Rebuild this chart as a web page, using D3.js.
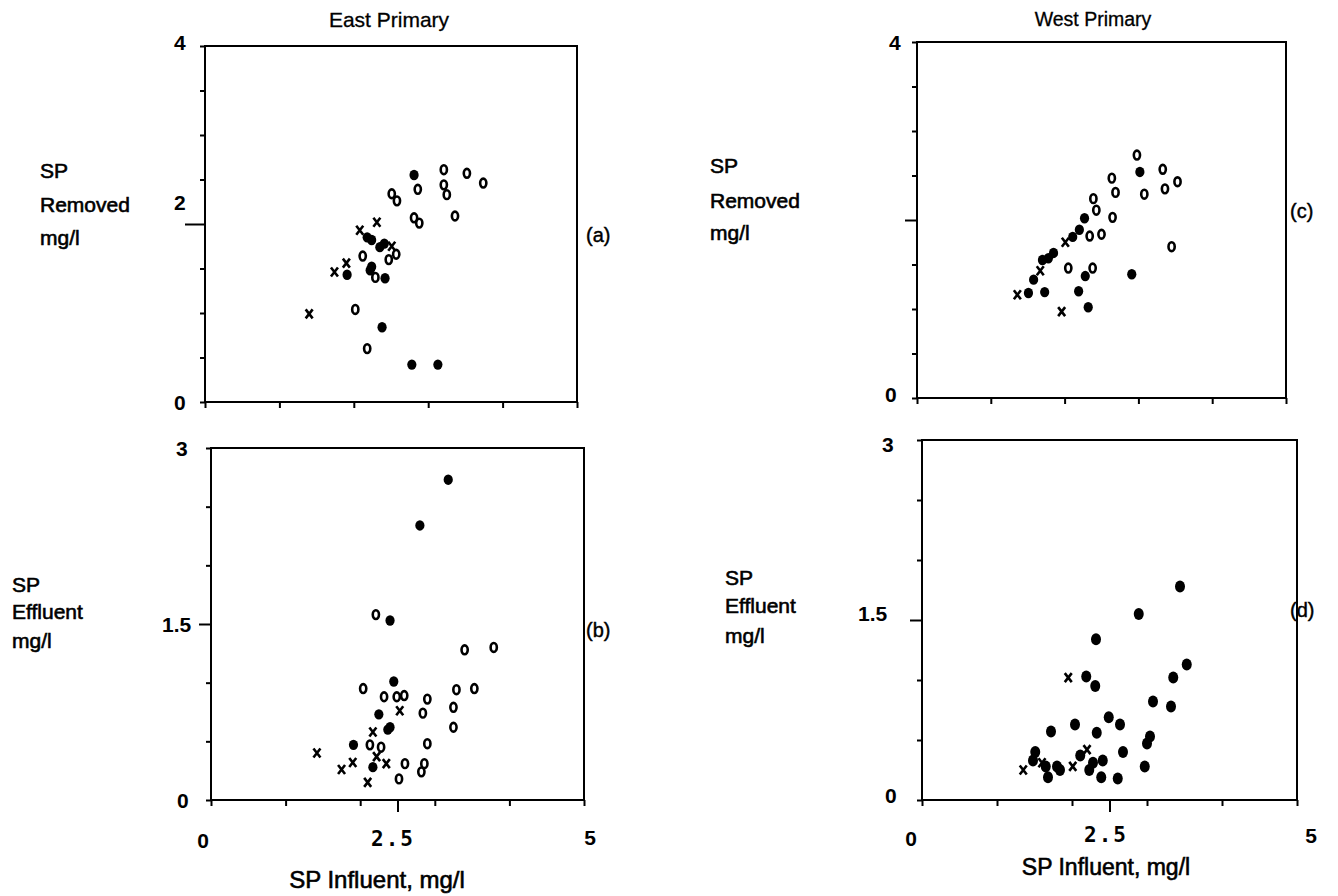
<!DOCTYPE html>
<html><head><meta charset="utf-8">
<script src="https://cdn.jsdelivr.net/npm/d3@7"></script>
<style>
body{margin:0;background:#fff;}
svg text{font-family:"Liberation Sans",Arial,sans-serif;fill:#000;}
</style></head>
<body><svg id="c" width="1338" height="896"></svg>
<script>
// ---- data (x = SP influent mg/l, y = value) ----
const eastRemovedO = [[3.21,2.61],[3.52,2.57],[3.74,2.46],[2.86,2.39],[3.21,2.44],[3.25,2.33],[2.51,2.34],[2.58,2.26],[2.81,2.07],[2.88,2.01],[3.36,2.09],[2.57,1.66],[2.47,1.60],[2.12,1.64],[2.29,1.40],[2.02,1.04],[2.18,0.60]];
const eastRemovedX = [[2.31,2.02],[2.08,1.93],[2.51,1.75],[1.90,1.56],[1.74,1.46],[1.40,0.99]];
const eastRemovedF = [[2.81,2.55],[2.18,1.85],[2.24,1.82],[2.35,1.74],[2.41,1.78],[2.24,1.52],[2.22,1.48],[2.42,1.39],[1.91,1.43],[2.38,0.84],[2.78,0.42],[3.13,0.42]];

const eastEffO = [[2.21,1.58],[3.40,1.28],[3.79,1.30],[2.04,0.95],[2.32,0.88],[2.49,0.88],[2.59,0.89],[2.90,0.86],[3.29,0.94],[3.53,0.95],[3.25,0.79],[2.84,0.74],[3.25,0.62],[2.13,0.47],[2.28,0.45],[2.90,0.48],[2.60,0.31],[2.86,0.31],[2.82,0.24],[2.52,0.18]];
const eastEffX = [[2.53,0.76],[2.17,0.58],[1.42,0.40],[2.22,0.37],[1.90,0.32],[1.75,0.26],[2.35,0.31],[2.10,0.15]];
const eastEffF = [[3.18,2.73],[2.80,2.34],[2.40,1.53],[2.45,1.01],[2.25,0.73],[2.40,0.62],[2.37,0.60],[1.91,0.47],[2.17,0.28]];

const westRemovedO = [[2.98,2.73],[3.33,2.57],[3.53,2.43],[3.36,2.35],[3.08,2.29],[2.64,2.47],[2.69,2.31],[2.39,2.24],[2.43,2.11],[2.65,2.03],[2.34,1.82],[2.50,1.84],[2.05,1.46],[2.38,1.46],[3.45,1.70]];
const westRemovedX = [[2.01,1.75],[1.67,1.43],[1.36,1.16],[1.96,0.97]];
const westRemovedF = [[3.02,2.54],[2.27,2.02],[2.20,1.89],[2.11,1.81],[1.85,1.63],[1.78,1.57],[1.70,1.55],[1.58,1.33],[2.28,1.37],[1.51,1.18],[1.73,1.19],[2.19,1.20],[2.91,1.39],[2.32,1.02]];

const westEffO = [];
const westEffX = [[1.95,1.02],[2.20,0.42],[1.60,0.31],[2.01,0.28],[1.35,0.25]];
const westEffF = [[3.44,1.78],[2.89,1.55],[2.32,1.34],[3.53,1.13],[3.35,1.02],[2.19,1.03],[2.31,0.95],[3.08,0.82],[3.32,0.78],[2.49,0.69],[2.64,0.63],[2.04,0.63],[1.72,0.57],[2.33,0.56],[3.04,0.53],[3.00,0.47],[2.68,0.40],[1.51,0.40],[2.11,0.37],[2.41,0.33],[1.48,0.33],[1.65,0.28],[1.80,0.28],[1.84,0.25],[2.23,0.25],[2.28,0.31],[2.97,0.28],[1.68,0.19],[2.39,0.19],[2.61,0.18]];

const xDomain = [0, 5];
const xMinorTicks = [0, 1, 2, 3, 4, 5];
const removedDomain = [0, 4];
const removedTicks = [0, 0.5, 1, 1.5, 2, 2.5, 3, 3.5, 4];
const effluentDomain = [0, 3];
const effluentTicks = [0, 0.5, 1, 1.5, 2, 2.5, 3];

const svg = d3.select("#c");

function panel(cfg) {
  const x = d3.scaleLinear().domain(xDomain).range([cfg.x0, cfg.x1]);
  const y = d3.scaleLinear().domain(cfg.yDomain).range([cfg.y1, cfg.y0]);
  const g = svg.append("g");
  g.append("rect").attr("x", cfg.x0).attr("y", cfg.y0)
    .attr("width", cfg.x1 - cfg.x0).attr("height", cfg.y1 - cfg.y0)
    .attr("fill", "none").attr("stroke", "#000").attr("stroke-width", 2);
  const yAx = d3.axisLeft(y).tickValues(cfg.yTicks).tickFormat("")
    .tickSize(5).tickSizeOuter(0);
  const ya = g.append("g").attr("transform", `translate(${cfg.x0},0)`).call(yAx);
  ya.select(".domain").remove();
  ya.selectAll("line").attr("stroke", "#000").attr("stroke-width", 2)
    .attr("x2", d => d === cfg.yMajor ? -cfg.majorLen : -5);
  const xTicks = cfg.showMid ? xMinorTicks.concat([2.5]) : xMinorTicks;
  const xAx = d3.axisBottom(x).tickValues(xTicks).tickFormat("").tickSize(6).tickSizeOuter(0);
  const xa = g.append("g").attr("transform", `translate(0,${cfg.y1})`).call(xAx);
  xa.select(".domain").remove();
  xa.selectAll("line").attr("stroke", "#000").attr("stroke-width", 2)
    .attr("y2", d => d === 2.5 ? 12 : 6);
  cfg.yLabels.forEach(l => {
    g.append("text").attr("x", l.x).attr("y", y(l.v) + l.dy)
      .attr("font-size", 21).attr("font-weight", "bold").text(l.t);
  });
  const pts = g.append("g");
  pts.selectAll(".o").data(cfg.o).join("ellipse")
    .attr("cx", d => x(d[0])).attr("cy", d => y(d[1]))
    .attr("rx", 3.1).attr("ry", 4.4).attr("fill", "none")
    .attr("stroke", "#000").attr("stroke-width", 2.6);
  pts.selectAll(".f").data(cfg.f).join("ellipse")
    .attr("cx", d => x(d[0])).attr("cy", d => y(d[1]))
    .attr("rx", cfg.fr[0]).attr("ry", cfg.fr[1]).attr("fill", "#000");
  const xs = pts.selectAll(".x").data(cfg.xp).join("g")
    .attr("transform", d => `translate(${x(d[0])},${y(d[1])})`);
  xs.append("path").attr("d", "M-3.5,-4.5L3.5,4.5M3.5,-4.5L-3.5,4.5")
    .attr("stroke", "#000").attr("stroke-width", 2.6).attr("fill", "none");
}

panel({x0:205, x1:577, y0:46, y1:402, yDomain:removedDomain, yTicks:removedTicks, yMajor:2, majorLen:20,
  showMid:false, o:eastRemovedO, xp:eastRemovedX, f:eastRemovedF, fr:[4.6,5.2],
  yLabels:[{v:4,t:"4",x:174,dy:4},{v:2,t:"2",x:174,dy:-14},{v:0,t:"0",x:174,dy:8}]});
panel({x0:211, x1:584, y0:448, y1:800, yDomain:effluentDomain, yTicks:effluentTicks, yMajor:1.5, majorLen:12,
  showMid:true, o:eastEffO, xp:eastEffX, f:eastEffF, fr:[4.6,5.2],
  yLabels:[{v:3,t:"3",x:176,dy:8},{v:1.5,t:"1.5",x:162,dy:8},{v:0,t:"0",x:177,dy:8}]});
panel({x0:917, x1:1286, y0:42, y1:398, yDomain:removedDomain, yTicks:removedTicks, yMajor:2, majorLen:12,
  showMid:false, o:westRemovedO, xp:westRemovedX, f:westRemovedF, fr:[4.6,5.2],
  yLabels:[{v:4,t:"4",x:889,dy:8},{v:0,t:"0",x:885,dy:4}]});
panel({x0:922, x1:1297, y0:440, y1:800, yDomain:effluentDomain, yTicks:effluentTicks, yMajor:1.5, majorLen:12,
  showMid:true, o:westEffO, xp:westEffX, f:westEffF, fr:[5,6],
  yLabels:[{v:3,t:"3",x:882,dy:12},{v:1.5,t:"1.5",x:858,dy:1},{v:0,t:"0",x:885,dy:3}]});

function txt(x, y, t, size, anchor, weight, family, spacing, sw) {
  const e = svg.append("text").attr("x", x).attr("y", y).attr("font-size", size)
    .attr("text-anchor", anchor || "start").text(t);
  if (weight) e.attr("font-weight", weight);
  if (family) e.style("font-family", family);
  if (spacing) e.attr("letter-spacing", spacing);
  if (sw) e.attr("stroke", "#000").attr("stroke-width", sw);
  return e;
}
txt(389, 27, "East Primary", 21, "middle", null, null, null, 0.3);
txt(1093, 26, "West Primary", 19.5, "middle", null, null, null, 0.3);

[["SP",178],["Removed",212],["mg/l",245]].forEach(d => txt(40, d[1], d[0], 21, null, null, null, null, 0.6));
[["SP",173],["Removed",208],["mg/l",240]].forEach(d => txt(710, d[1], d[0], 21, null, null, null, null, 0.6));
[["SP",592],["Effluent",619],["mg/l",648]].forEach(d => txt(12, d[1], d[0], 21, null, null, null, null, 0.6));
[["SP",585],["Effluent",613],["mg/l",643]].forEach(d => txt(725, d[1], d[0], 21, null, null, null, null, 0.6));

txt(586, 242, "(a)", 20, null, null, null, null, 0.4);
txt(586, 637, "(b)", 20, null, null, null, null, 0.4);
txt(1290, 218, "(c)", 20, null, null, null, null, 0.4);
txt(1290, 617, "(d)", 20, null, null, null, null, 0.4);

txt(203, 848, "0", 21, "middle", "bold");
txt(393, 846, "2.5", 21, "middle", "bold", "'DejaVu Sans Mono', monospace", 2);
txt(590, 845, "5", 21, "middle", "bold");
txt(377, 888, "SP Influent, mg/l", 24, "middle", null, null, null, 0.6);

txt(911, 846, "0", 21, "middle", "bold");
txt(1106, 842, "2.5", 21, "middle", "bold", "'DejaVu Sans Mono', monospace", 2);
txt(1311, 843, "5", 21, "middle", "bold");
txt(1106, 875, "SP Influent, mg/l", 23, "middle", null, null, null, 0.6);
</script></body></html>
